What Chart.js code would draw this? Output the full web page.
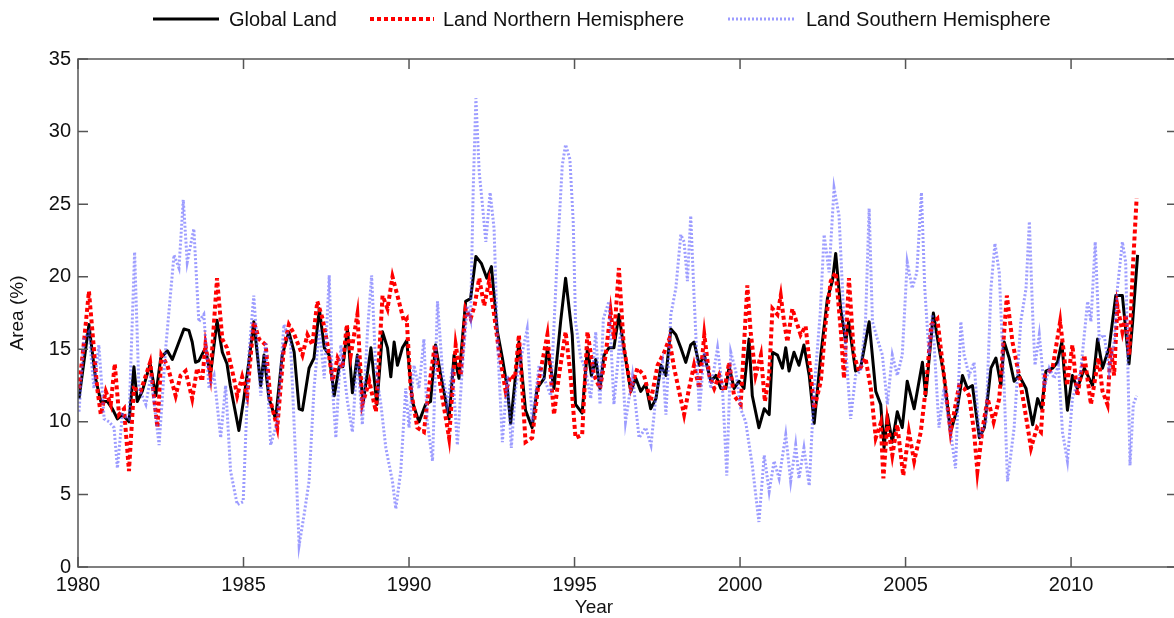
<!DOCTYPE html>
<html>
<head>
<meta charset="utf-8">
<title>Land Area</title>
<script src="https://cdn.jsdelivr.net/npm/chart.js@4.4.0/dist/chart.umd.min.js"></script>
<style>
  html, body { margin: 0; padding: 0; background: #fff; overflow: hidden; }
  #wrap { position: relative; width: 1182px; height: 618px; font-family: "Liberation Sans", Arial, sans-serif; color: #111; }
  #wrap canvas { position: absolute; left: 0; top: 0; }
  .key { position: absolute; top: 8px; font-size: 20px; line-height: 22px; white-space: nowrap; }
  .swatch { position: absolute; top: 15px; }
  #xtitle { position: absolute; top: 596px; left: 574px; width: 40px; text-align: center; font-size: 19px; line-height: 22px; }
</style>
</head>
<body>
<div id="wrap">
  <canvas id="areaChart"></canvas>
  <svg class="swatch" style="left:153px" width="66" height="8"><line x1="0" y1="4" x2="66" y2="4" stroke="#000" stroke-width="3"/></svg>
  <span class="key" style="left:229px">Global Land</span>
  <svg class="swatch" style="left:370px" width="64" height="8"><line x1="0" y1="4" x2="64" y2="4" stroke="#ff0000" stroke-width="4" stroke-dasharray="4 3"/></svg>
  <span class="key" style="left:443px">Land Northern Hemisphere</span>
  <svg class="swatch" style="left:728px" width="68" height="8"><line x1="0" y1="4" x2="68" y2="4" stroke="rgba(90,90,255,0.6)" stroke-width="3" stroke-dasharray="2 2"/></svg>
  <span class="key" style="left:806px">Land Southern Hemisphere</span>
  <div id="xtitle">Year</div>
</div>
<script>
// tick positions on both axes
const yearTicks = [1980, 1985, 1990, 1995, 2000, 2005, 2010];
const areaTicks = [0, 5, 10, 15, 20, 25, 30, 35];

// Global land
const globalYears = [
  1980.03, 1980.33, 1980.53, 1980.69, 1980.89, 1981.04, 1981.19, 1981.34, 1981.54, 1981.69, 1981.79, 1981.94,
  1982.18, 1982.35, 1982.50, 1982.70, 1982.85, 1983.05, 1983.20, 1983.35, 1983.45, 1983.55, 1983.65, 1983.85,
  1984.00, 1984.20, 1984.36, 1984.50, 1984.60, 1984.86, 1985.01, 1985.16, 1985.31, 1985.52, 1985.62, 1985.77,
  1985.97, 1986.17, 1986.37, 1986.53, 1986.68, 1986.78, 1986.98, 1987.13, 1987.29, 1987.44, 1987.59, 1987.74,
  1987.89, 1988.00, 1988.14, 1988.29, 1988.44, 1988.62, 1988.85, 1989.03, 1989.20, 1989.35, 1989.45, 1989.55,
  1989.65, 1989.80, 1989.93, 1990.10, 1990.30, 1990.50, 1990.65, 1990.80, 1990.96, 1991.21, 1991.36, 1991.51,
  1991.71, 1991.86, 1992.02, 1992.19, 1992.35, 1992.49, 1992.67, 1992.82, 1992.97, 1993.07, 1993.17, 1993.32,
  1993.52, 1993.72, 1993.87, 1994.08, 1994.18, 1994.38, 1994.58, 1994.73, 1994.93, 1995.03, 1995.23, 1995.39,
  1995.51, 1995.64, 1995.77, 1995.89, 1996.04, 1996.19, 1996.34, 1996.49, 1996.70, 1996.85, 1997.00, 1997.15,
  1997.30, 1997.46, 1997.61, 1997.76, 1997.91, 1998.06, 1998.21, 1998.36, 1998.51, 1998.61, 1998.77, 1998.92,
  1999.12, 1999.27, 1999.42, 1999.57, 1999.67, 1999.82, 1999.97, 2000.12, 2000.27, 2000.37, 2000.57, 2000.73,
  2000.88, 2000.98, 2001.13, 2001.28, 2001.38, 2001.48, 2001.63, 2001.78, 2001.93, 2002.09, 2002.24, 2002.44,
  2002.64, 2002.79, 2002.89, 2003.04, 2003.19, 2003.28, 2003.49, 2003.64, 2003.90, 2004.10, 2004.25, 2004.35,
  2004.45, 2004.60, 2004.75, 2004.90, 2005.05, 2005.26, 2005.51, 2005.61, 2005.84, 2006.01, 2006.16, 2006.36,
  2006.56, 2006.72, 2006.87, 2007.02, 2007.23, 2007.38, 2007.58, 2007.73, 2007.88, 2007.98, 2008.13, 2008.28,
  2008.43, 2008.64, 2008.84, 2008.99, 2009.11, 2009.24, 2009.44, 2009.59, 2009.72, 2009.89, 2010.04, 2010.19,
  2010.40, 2010.65, 2010.80, 2010.95, 2011.15, 2011.35, 2011.55, 2011.75, 2011.86, 2012.01
];
const globalArea = [
  11.6, 16.7, 13.0, 11.4, 11.4, 10.9, 10.2, 10.5, 10.0, 13.8, 11.4, 12.1,
  14.0, 11.8, 14.4, 14.9, 14.3, 15.5, 16.4, 16.3, 15.5, 14.1, 14.2, 15.1,
  13.2, 17.0, 14.8, 14.0, 12.5, 9.4, 11.6, 14.1, 16.9, 12.5, 14.6, 11.6,
  10.2, 14.6, 16.2, 14.8, 10.9, 10.8, 13.7, 14.4, 17.8, 15.1, 14.6, 11.8,
  13.8, 13.8, 16.4, 12.0, 14.6, 11.4, 15.1, 11.2, 16.2, 15.1, 13.1, 15.5,
  13.9, 15.1, 15.6, 11.4, 10.0, 11.2, 11.4, 15.3, 13.2, 10.2, 14.6, 13.0,
  18.3, 18.5, 21.4, 20.9, 19.9, 20.7, 16.2, 14.4, 12.3, 9.9, 12.1, 15.5,
  10.8, 9.6, 12.3, 13.0, 15.1, 12.3, 16.9, 19.9, 16.0, 11.2, 10.6, 15.1,
  13.2, 14.3, 12.3, 14.6, 15.1, 15.1, 17.4, 15.1, 12.1, 13.0, 12.1, 12.6,
  10.9, 11.6, 13.9, 13.2, 16.4, 16.0, 15.1, 14.1, 15.3, 15.5, 13.9, 14.6,
  12.8, 13.2, 12.3, 12.3, 13.8, 12.3, 12.8, 12.3, 15.7, 11.8, 9.6, 10.9,
  10.5, 14.8, 14.6, 13.7, 15.1, 13.5, 14.8, 13.9, 15.3, 13.2, 9.9, 14.6,
  18.5, 19.7, 21.6, 17.8, 15.5, 16.9, 13.5, 13.7, 16.9, 12.1, 11.2, 8.2,
  10.5, 8.6, 10.7, 9.6, 12.8, 10.9, 14.1, 11.8, 17.5, 15.1, 13.2, 9.3,
  10.9, 13.2, 12.3, 12.5, 8.9, 9.6, 13.7, 14.4, 12.5, 15.5, 14.4, 12.8,
  13.2, 12.3, 9.8, 11.6, 10.9, 13.5, 13.7, 14.1, 15.5, 10.8, 13.2, 12.3,
  13.7, 12.5, 15.7, 13.7, 15.1, 18.7, 18.7, 14.0, 16.9, 21.5
];

// Land, northern hemisphere
const northYears = [
  1980.03, 1980.18, 1980.33, 1980.43, 1980.58, 1980.69, 1980.84, 1980.99, 1981.11, 1981.24, 1981.39, 1981.54,
  1981.69, 1981.89, 1982.18, 1982.40, 1982.52, 1982.70, 1982.95, 1983.10, 1983.25, 1983.45, 1983.60, 1983.75,
  1983.85, 1984.00, 1984.20, 1984.36, 1984.50, 1984.71, 1984.81, 1984.96, 1985.11, 1985.31, 1985.47, 1985.67,
  1985.82, 1986.02, 1986.22, 1986.37, 1986.52, 1986.78, 1986.93, 1987.08, 1987.23, 1987.39, 1987.54, 1987.69,
  1987.84, 1987.99, 1988.12, 1988.24, 1988.44, 1988.59, 1988.80, 1989.00, 1989.20, 1989.35, 1989.50, 1989.65,
  1989.85, 1989.93, 1990.05, 1990.25, 1990.45, 1990.60, 1990.78, 1990.96, 1991.21, 1991.41, 1991.56, 1991.71,
  1991.86, 1991.98, 1992.12, 1992.27, 1992.42, 1992.57, 1992.72, 1992.92, 1993.07, 1993.20, 1993.32, 1993.52,
  1993.72, 1993.93, 1994.18, 1994.38, 1994.53, 1994.73, 1994.88, 1995.03, 1995.23, 1995.39, 1995.59, 1995.77,
  1995.94, 1996.09, 1996.19, 1996.34, 1996.49, 1996.70, 1996.90, 1997.10, 1997.30, 1997.51, 1997.71, 1997.86,
  1998.01, 1998.16, 1998.31, 1998.46, 1998.61, 1998.77, 1998.92, 1999.07, 1999.22, 1999.37, 1999.52, 1999.67,
  1999.82, 2000.02, 2000.22, 2000.32, 2000.47, 2000.63, 2000.75, 2000.88, 2000.98, 2001.13, 2001.23, 2001.33,
  2001.43, 2001.58, 2001.73, 2001.83, 2001.98, 2002.14, 2002.24, 2002.44, 2002.59, 2002.74, 2002.89, 2003.04,
  2003.14, 2003.29, 2003.44, 2003.59, 2003.79, 2003.95, 2004.10, 2004.25, 2004.33, 2004.45, 2004.60, 2004.75,
  2004.93, 2005.10, 2005.26, 2005.46, 2005.61, 2005.78, 2005.96, 2006.16, 2006.36, 2006.56, 2006.62, 2006.77,
  2006.92, 2007.07, 2007.17, 2007.33, 2007.48, 2007.66, 2007.83, 2008.06, 2008.23, 2008.43, 2008.60, 2008.79,
  2008.97, 2009.09, 2009.21, 2009.44, 2009.67, 2009.79, 2009.88, 2010.04, 2010.19, 2010.40, 2010.60, 2010.83,
  2010.95, 2011.10, 2011.20, 2011.30, 2011.40, 2011.55, 2011.65, 2011.76, 2011.86, 2011.98
];
const northArea = [
  12.3, 15.5, 19.0, 16.4, 12.3, 10.5, 12.1, 11.2, 14.0, 10.5, 10.9, 6.6,
  12.3, 12.1, 14.1, 9.6, 14.6, 13.9, 11.8, 13.2, 13.5, 11.6, 13.7, 12.8,
  15.3, 13.2, 19.9, 15.7, 15.1, 13.0, 11.8, 13.1, 11.8, 16.9, 15.7, 15.3,
  11.4, 9.6, 15.1, 16.7, 16.1, 14.6, 16.0, 15.3, 18.3, 17.1, 15.3, 12.8,
  14.4, 13.7, 16.7, 14.6, 17.4, 11.2, 12.8, 10.7, 18.7, 17.8, 20.0, 18.7,
  16.9, 17.1, 12.3, 9.6, 9.3, 12.3, 15.3, 12.3, 8.9, 15.3, 13.2, 17.8,
  17.1, 18.0, 19.9, 18.0, 19.7, 17.4, 14.8, 12.1, 13.2, 13.0, 16.0, 8.6,
  8.9, 13.0, 16.0, 10.5, 13.2, 16.2, 13.2, 8.9, 9.1, 16.2, 13.2, 12.3,
  14.6, 17.6, 15.7, 20.6, 15.1, 12.3, 13.7, 13.2, 11.4, 13.9, 14.8, 15.7,
  13.7, 12.1, 10.5, 12.3, 13.9, 12.3, 16.0, 13.2, 12.3, 13.2, 12.1, 14.1,
  11.8, 11.2, 19.4, 16.2, 13.2, 14.6, 11.4, 13.2, 17.8, 17.4, 18.7, 16.9,
  15.5, 17.8, 16.7, 16.0, 16.6, 13.2, 10.9, 12.8, 16.9, 19.7, 20.3, 16.4,
  13.0, 19.9, 14.6, 13.5, 14.4, 12.3, 8.9, 9.9, 6.1, 10.0, 7.7, 9.8,
  6.3, 9.3, 7.3, 9.3, 12.3, 16.7, 17.1, 13.2, 9.3, 11.8, 12.5, 12.3,
  11.8, 9.3, 6.6, 9.6, 11.6, 10.0, 11.6, 18.7, 15.5, 13.2, 10.9, 8.2,
  9.6, 9.3, 13.2, 13.7, 16.9, 14.6, 12.5, 15.3, 11.8, 14.6, 11.2, 14.4,
  12.1, 11.2, 15.1, 13.2, 18.0, 16.2, 17.4, 14.6, 20.3, 25.4
];

// Land, southern hemisphere
const southYears = [
  1980.03, 1980.18, 1980.33, 1980.48, 1980.63, 1980.79, 1980.94, 1981.09, 1981.19, 1981.34, 1981.54, 1981.71,
  1981.84, 1982.05, 1982.20, 1982.45, 1982.65, 1982.90, 1983.05, 1983.18, 1983.30, 1983.50, 1983.65, 1983.80,
  1983.96, 1984.11, 1984.31, 1984.46, 1984.61, 1984.81, 1984.99, 1985.16, 1985.31, 1985.52, 1985.67, 1985.82,
  1986.02, 1986.22, 1986.42, 1986.57, 1986.68, 1986.83, 1986.98, 1987.13, 1987.29, 1987.44, 1987.59, 1987.69,
  1987.79, 1987.94, 1988.14, 1988.29, 1988.44, 1988.59, 1988.75, 1988.87, 1989.00, 1989.15, 1989.30, 1989.50,
  1989.60, 1989.75, 1989.90, 1990.00, 1990.15, 1990.30, 1990.45, 1990.55, 1990.71, 1990.86, 1991.01, 1991.16,
  1991.31, 1991.46, 1991.61, 1991.76, 1991.86, 1991.94, 1992.02, 1992.12, 1992.22, 1992.32, 1992.45, 1992.57,
  1992.67, 1992.82, 1992.97, 1993.09, 1993.22, 1993.32, 1993.57, 1993.72, 1993.93, 1994.08, 1994.28, 1994.48,
  1994.63, 1994.73, 1994.86, 1994.96, 1995.03, 1995.18, 1995.34, 1995.49, 1995.64, 1995.77, 1995.87, 1996.04,
  1996.19, 1996.39, 1996.54, 1996.75, 1996.95, 1997.15, 1997.31, 1997.46, 1997.66, 1997.76, 1997.91, 1998.06,
  1998.21, 1998.31, 1998.41, 1998.51, 1998.61, 1998.77, 1998.92, 1999.12, 1999.32, 1999.47, 1999.60, 1999.72,
  1999.87, 2000.02, 2000.17, 2000.37, 2000.57, 2000.73, 2000.88, 2001.03, 2001.18, 2001.38, 2001.53, 2001.68,
  2001.78, 2001.93, 2002.09, 2002.24, 2002.42, 2002.54, 2002.69, 2002.84, 2002.99, 2003.14, 2003.24, 2003.34,
  2003.49, 2003.64, 2003.79, 2003.90, 2004.00, 2004.15, 2004.30, 2004.45, 2004.60, 2004.75, 2004.90, 2005.05,
  2005.20, 2005.34, 2005.48, 2005.58, 2005.71, 2005.81, 2006.01, 2006.16, 2006.36, 2006.51, 2006.67, 2006.77,
  2006.92, 2007.07, 2007.23, 2007.43, 2007.58, 2007.70, 2007.83, 2007.98, 2008.08, 2008.28, 2008.48, 2008.64,
  2008.74, 2008.84, 2008.91, 2009.04, 2009.19, 2009.34, 2009.49, 2009.62, 2009.74, 2009.89, 2010.04, 2010.14,
  2010.29, 2010.50, 2010.60, 2010.73, 2010.85, 2011.00, 2011.15, 2011.30, 2011.40, 2011.55, 2011.65, 2011.78,
  2011.88, 2011.98
];
const southArea = [
  10.7, 15.7, 16.2, 12.3, 15.3, 10.2, 10.0, 9.6, 6.8, 10.5, 10.2, 21.7,
  12.3, 11.2, 13.2, 8.4, 15.1, 21.5, 20.6, 25.3, 21.0, 23.3, 16.9, 17.4,
  12.3, 13.2, 8.9, 12.5, 6.6, 4.3, 4.5, 14.6, 18.7, 11.8, 15.5, 8.4,
  10.0, 16.7, 15.5, 7.7, 1.5, 3.6, 5.9, 12.3, 16.4, 13.0, 20.1, 12.3,
  8.9, 15.3, 11.4, 9.3, 14.6, 9.8, 16.4, 20.1, 13.5, 11.2, 8.2, 5.9,
  4.0, 6.6, 12.3, 9.6, 13.9, 12.3, 15.7, 10.0, 7.3, 18.3, 13.5, 11.2,
  13.7, 8.4, 13.7, 18.0, 17.1, 26.1, 32.3, 27.2, 24.9, 22.4, 25.8, 23.3,
  15.7, 8.6, 13.2, 8.2, 12.3, 13.7, 16.4, 10.0, 13.9, 13.0, 11.8, 21.5,
  27.7, 29.1, 28.1, 23.8, 16.9, 14.5, 13.5, 11.6, 16.2, 11.2, 17.1, 18.3,
  11.2, 16.2, 10.0, 13.2, 8.9, 9.6, 8.4, 11.8, 14.1, 10.5, 17.4, 19.2,
  22.9, 22.4, 19.7, 24.2, 18.7, 10.7, 14.8, 12.3, 15.1, 12.3, 6.3, 14.8,
  13.5, 10.9, 10.0, 7.0, 3.1, 7.7, 5.2, 7.3, 6.1, 9.1, 5.9, 8.4,
  6.1, 8.2, 5.6, 12.3, 17.4, 22.9, 20.3, 26.1, 24.2, 16.9, 13.5, 10.2,
  13.2, 13.5, 16.9, 24.7, 16.9, 15.7, 14.6, 11.2, 14.6, 13.2, 14.6, 21.0,
  19.2, 20.3, 25.8, 19.2, 14.6, 17.4, 9.6, 12.3, 9.3, 6.8, 16.9, 14.6,
  13.2, 14.1, 8.9, 10.0, 19.2, 22.3, 20.3, 12.3, 5.9, 9.6, 16.9, 19.2,
  23.8, 17.4, 13.9, 16.0, 12.3, 13.7, 13.0, 13.9, 9.3, 7.3, 11.6, 12.3,
  13.5, 18.3, 16.9, 22.4, 15.7, 16.0, 13.5, 15.5, 19.2, 22.4, 21.0, 7.0,
  11.2, 11.8
];

const toPoints = (xs, ys) => xs.map((x, i) => ({ x: x, y: ys[i] }));

// box around the axes with inward tick marks on all four sides
const axesBox = {
  id: 'axesBox',
  afterDatasetsDraw(chart) {
    const { ctx, chartArea: a, scales } = chart;
    ctx.save();
    ctx.strokeStyle = '#555';
    ctx.lineWidth = 1.5;
    ctx.strokeRect(a.left, a.top, a.right - a.left, a.bottom - a.top);
    ctx.beginPath();
    yearTicks.forEach(v => {
      const px = scales.x.getPixelForValue(v);
      ctx.moveTo(px, a.bottom); ctx.lineTo(px, a.bottom - 10);
      ctx.moveTo(px, a.top); ctx.lineTo(px, a.top + 10);
    });
    areaTicks.forEach(v => {
      const py = scales.y.getPixelForValue(v);
      ctx.moveTo(a.left, py); ctx.lineTo(a.left + 10, py);
      ctx.moveTo(a.right, py); ctx.lineTo(a.right - 10, py);
    });
    ctx.stroke();
    ctx.restore();
  }
};

const tickFont = { family: '"Liberation Sans", Arial, sans-serif', size: 20 };

new Chart(document.getElementById('areaChart'), {
  type: 'line',
  data: {
    datasets: [{
      label: 'Global Land',
      data: toPoints(globalYears, globalArea),
      borderColor: '#000',
      borderWidth: 3,
      borderJoinStyle: 'round',
      order: 3
    }, {
      label: 'Land Northern Hemisphere',
      data: toPoints(northYears, northArea),
      borderColor: '#ff0000',
      borderWidth: 4,
      borderDash: [4, 3],
      order: 2
    }, {
      label: 'Land Southern Hemisphere',
      data: toPoints(southYears, southArea),
      borderColor: 'rgba(90, 90, 255, 0.6)',
      borderWidth: 3,
      borderDash: [2, 2],
      order: 1
    }]
  },
  options: {
    responsive: true,
    maintainAspectRatio: false,
    animation: false,
    elements: { point: { radius: 0 }, line: { tension: 0 } },
    layout: { padding: { top: 59, left: 0, right: 5, bottom: 0 } },
    plugins: { legend: { display: false }, tooltip: { enabled: false } },
    scales: {
      x: {
        type: 'linear',
        min: 1980,
        max: 2013.2,
        afterBuildTicks: s => { s.ticks = yearTicks.map(v => ({ value: v })); },
        afterFit: s => { s.height = 51; },
        grid: { display: false, drawTicks: false },
        border: { display: false },
        ticks: { color: '#111', font: tickFont, padding: 6, maxRotation: 0, callback: v => String(v) }
      },
      y: {
        min: 0,
        max: 35,
        afterBuildTicks: s => { s.ticks = areaTicks.map(v => ({ value: v })); },
        afterFit: s => { s.width = 78; },
        grid: { display: false, drawTicks: false },
        border: { display: false },
        ticks: { color: '#111', font: tickFont, padding: 7, callback: v => String(v) },
        title: { display: true, text: 'Area (%)', color: '#111', font: { family: tickFont.family, size: 19 }, padding: { top: 6, bottom: 0 } }
      }
    }
  },
  plugins: [axesBox]
});
</script>
</body>
</html>
